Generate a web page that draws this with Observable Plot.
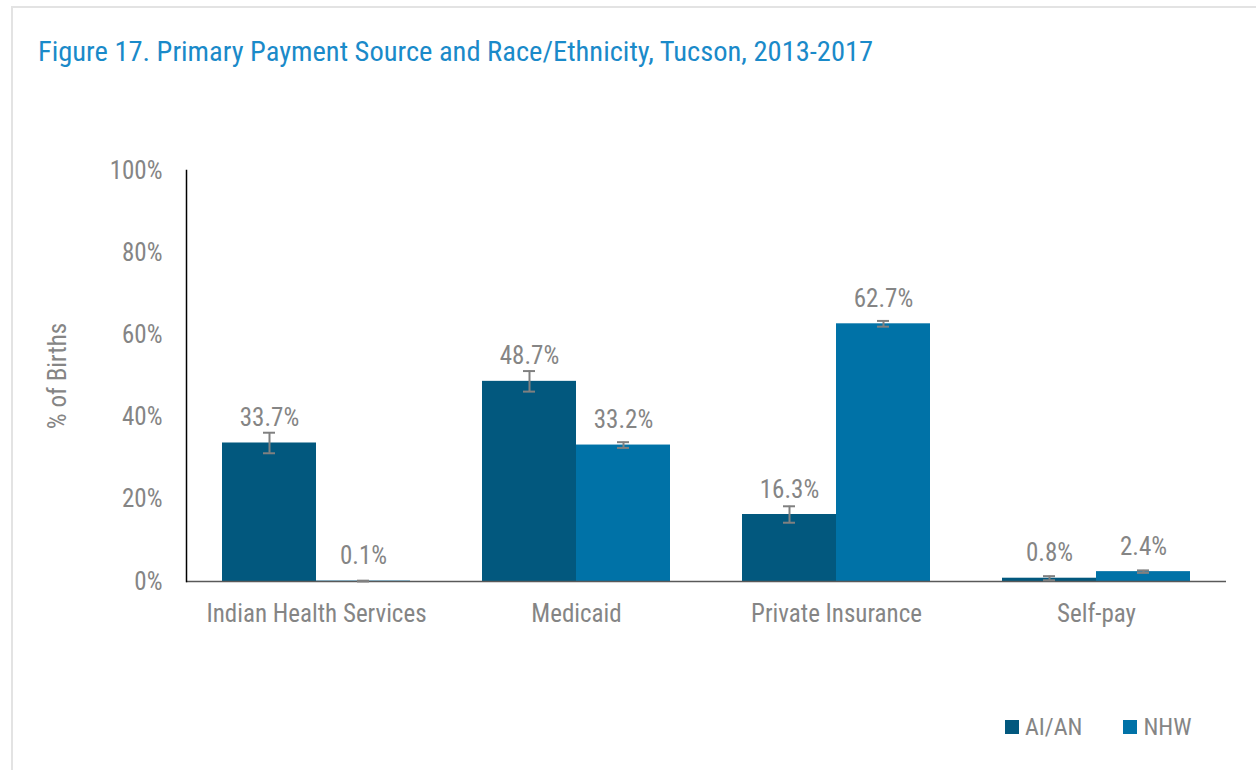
<!DOCTYPE html>
<html>
<head>
<meta charset="utf-8">
<script src="https://cdn.jsdelivr.net/npm/d3@7"></script>
<script src="https://cdn.jsdelivr.net/npm/@observablehq/plot@0.6"></script>
<style>
  html, body { margin: 0; padding: 0; background: #fff; overflow: hidden; }
  body { width: 1256px; height: 770px; position: relative;
         font-family: "Liberation Sans Narrow", "Arial Narrow", "Roboto Condensed", "DejaVu Sans Condensed", sans-serif; font-stretch: condensed; }
  #frame { position: absolute; left: 11px; top: 6px; width: 1400px; height: 900px; border: 2px solid #e3e3e3; box-sizing: border-box; }
  #title { position: absolute; left: 38px; top: 36px; font-size: 28.5px; line-height: 32px; color: #1a8ac9; white-space: nowrap; }
  #chart { position: absolute; left: 0; top: 0; }
  #legend { position: absolute; left: 1005px; top: 715px; display: flex; align-items: center; font-size: 24px; color: #858585; line-height: 24px; }
  .item { display: flex; align-items: center; margin-right: 41px; }
  .sw { width: 14px; height: 14px; margin-right: 6px; }
</style>
</head>
<body>
<div id="frame"></div>
<div id="chart"></div>
<div id="title">Figure 17. Primary Payment Source and Race/Ethnicity, Tucson, 2013-2017</div>
<div id="legend"></div>
<script>
const categories = ["Indian Health Services", "Medicaid", "Private Insurance", "Self-pay"];
const groups = ["AI/AN", "NHW"];
const groupColors = ["#02587e", "#0072a7"];
const aianValues = [33.7, 48.7, 16.3, 0.8];
const nhwValues = [0.1, 33.2, 62.7, 2.4];
const aianErrors = [2.5, 2.5, 2.0, 0.5];
const nhwErrors = [0.1, 0.7, 0.7, 0.3];
const yTicks = [0, 20, 40, 60, 80, 100];

const rows = categories.flatMap((c, i) => [
  {category: c, group: groups[0], value: aianValues[i], err: aianErrors[i]},
  {category: c, group: groups[1], value: nhwValues[i], err: nhwErrors[i]}
]);

const FONT = '"Liberation Sans Narrow", "Arial Narrow", "Roboto Condensed", "DejaVu Sans Condensed", sans-serif';
const GRAY = "#858585";

const chart = Plot.plot({
  width: 1256,
  height: 770,
  marginTop: 170,
  marginBottom: 189,
  marginLeft: 186,
  marginRight: 30,
  style: {fontFamily: FONT, fontSize: "25px", color: GRAY, background: "transparent", fontStretch: "condensed"},
  fx: {domain: categories, padding: 0, label: null},
  x: {domain: groups, paddingInner: 0, paddingOuter: 0.38, axis: null},
  y: {domain: [0, 100], axis: null},
  color: {domain: groups, range: groupColors},
  marks: [
    Plot.barY(rows, {fx: "category", x: "group", y: "value", fill: "group"}),
    Plot.ruleY([0], {stroke: "#595959", strokeWidth: 1.5}),
    Plot.frame({anchor: "left", facetAnchor: "left", stroke: "#000", strokeWidth: 1.5}),
    Plot.ruleX(rows, {fx: "category", x: "group", y1: d => Math.max(0, d.value - d.err), y2: d => d.value + d.err, stroke: "#808080", strokeWidth: 2}),
    Plot.tickY(rows, {fx: "category", x: "group", y: d => Math.max(0, d.value - d.err), inset: 41, stroke: "#808080", strokeWidth: 2}),
    Plot.tickY(rows, {fx: "category", x: "group", y: d => d.value + d.err, inset: 41, stroke: "#808080", strokeWidth: 2}),
    Plot.text(rows, {fx: "category", x: "group", y: "value", text: d => d.value.toFixed(1) + "%", dy: -25, lineAnchor: "middle", fill: GRAY, fontSize: 25}),
    Plot.axisY({ticks: yTicks, tickFormat: d => d + "%", tickSize: 0, tickPadding: 24, label: "% of Births", labelAnchor: "center", labelArrow: "none", labelOffset: 138, fontSize: 25, color: GRAY}),
    Plot.axisFx({anchor: "bottom", tickSize: 0, tickPadding: 23, label: null, fontSize: 25, color: GRAY})
  ]
});
document.getElementById("chart").appendChild(chart);

const legend = document.getElementById("legend");
groups.forEach((g, i) => {
  const item = document.createElement("div");
  item.className = "item";
  const sw = document.createElement("div");
  sw.className = "sw";
  sw.style.background = groupColors[i];
  const label = document.createElement("span");
  label.textContent = g;
  item.appendChild(sw);
  item.appendChild(label);
  legend.appendChild(item);
});
</script>
</body>
</html>
